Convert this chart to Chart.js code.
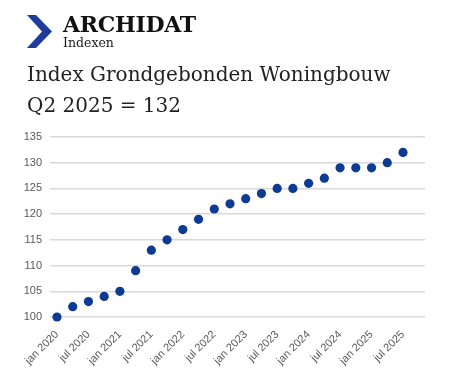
<!DOCTYPE html>
<html><head><meta charset="utf-8">
<script src="https://cdn.jsdelivr.net/npm/chart.js@4.4.1/dist/chart.umd.min.js"></script>
<style>
html,body{margin:0;padding:0;background:#fff;width:450px;height:375px;overflow:hidden}
#wrap{position:relative;width:450px;height:375px;background:#fff}
#c{position:absolute;left:0;top:0}
.t{position:absolute;white-space:nowrap;line-height:1;font-family:"DejaVu Serif",serif;color:#222}
</style></head><body>
<div id="wrap">
<canvas id="c" width="450" height="375"></canvas>
<svg style="position:absolute;left:0;top:0" width="60" height="60"><polygon points="27,15 36,15 52,31.5 36,48 27,48 42,31.5" fill="#1f3c9a"/></svg>
<div class="t" style="left:63px;top:13px;font-size:22px;font-weight:bold;color:#111;letter-spacing:-0.3px">ARCHIDAT</div>
<div class="t" style="left:63px;top:37px;font-size:12.5px;color:#1a1a1a">Indexen</div>
<div class="t" style="left:27px;top:64px;font-size:20px">Index Grondgebonden Woningbouw</div>
<div class="t" style="left:27px;top:95px;font-size:20px">Q2 2025 = 132</div>
</div>
<script>
const quarters = ['jan 2020','apr 2020','jul 2020','okt 2020',
  'jan 2021','apr 2021','jul 2021','okt 2021',
  'jan 2022','apr 2022','jul 2022','okt 2022',
  'jan 2023','apr 2023','jul 2023','okt 2023',
  'jan 2024','apr 2024','jul 2024','okt 2024',
  'jan 2025','apr 2025','jul 2025'];
const indexValues = [100,102,103,104,105,109,113,115,117,119,121,122,123,124,125,125,126,127,129,129,129,130,132];
const yTicks = [100,105,110,115,120,125,130,135];

const points = indexValues.map((v,i)=>({x:i,y:v}));
const LABEL = '#595959';

new Chart(document.getElementById('c'), {
  type: 'scatter',
  data: { datasets: [{
    data: points,
    backgroundColor: '#0d3b94',
    borderColor: '#0d3b94',
    borderWidth: 0,
    pointRadius: 4.6,
    pointHoverRadius: 4.6,
    clip: false
  }]},
  options: {
    responsive: false,
    animation: false,
    events: [],
    layout: { padding: { left: 0, right: 25, top: 137, bottom: 0 } },
    plugins: { legend: { display: false }, tooltip: { enabled: false } },
    scales: {
      x: {
        type: 'linear',
        min: -0.445,
        max: 23.4,
        grid: { display: false },
        border: { display: false },
        afterBuildTicks: s => { s.ticks = quarters.map((q,i)=>({value:i})).filter(t => t.value % 2 === 0); },
        afterFit: s => { s.height = 58; },
        ticks: {
          autoSkip: false, maxRotation: 45, minRotation: 45, padding: 3,
          color: LABEL, font: { family: 'Liberation Sans', size: 11 },
          callback: v => quarters[v]
        }
      },
      y: {
        min: 100, max: 135,
        afterBuildTicks: s => { s.ticks = yTicks.map(v => ({value: v})); },
        afterFit: s => { s.width = 50; },
        grid: { color: '#d9d9d9', lineWidth: 1.5, drawTicks: false },
        border: { display: false },
        ticks: { color: LABEL, padding: 8, font: { family: 'Liberation Sans', size: 11 } }
      }
    }
  }
});
</script>
</body></html>
